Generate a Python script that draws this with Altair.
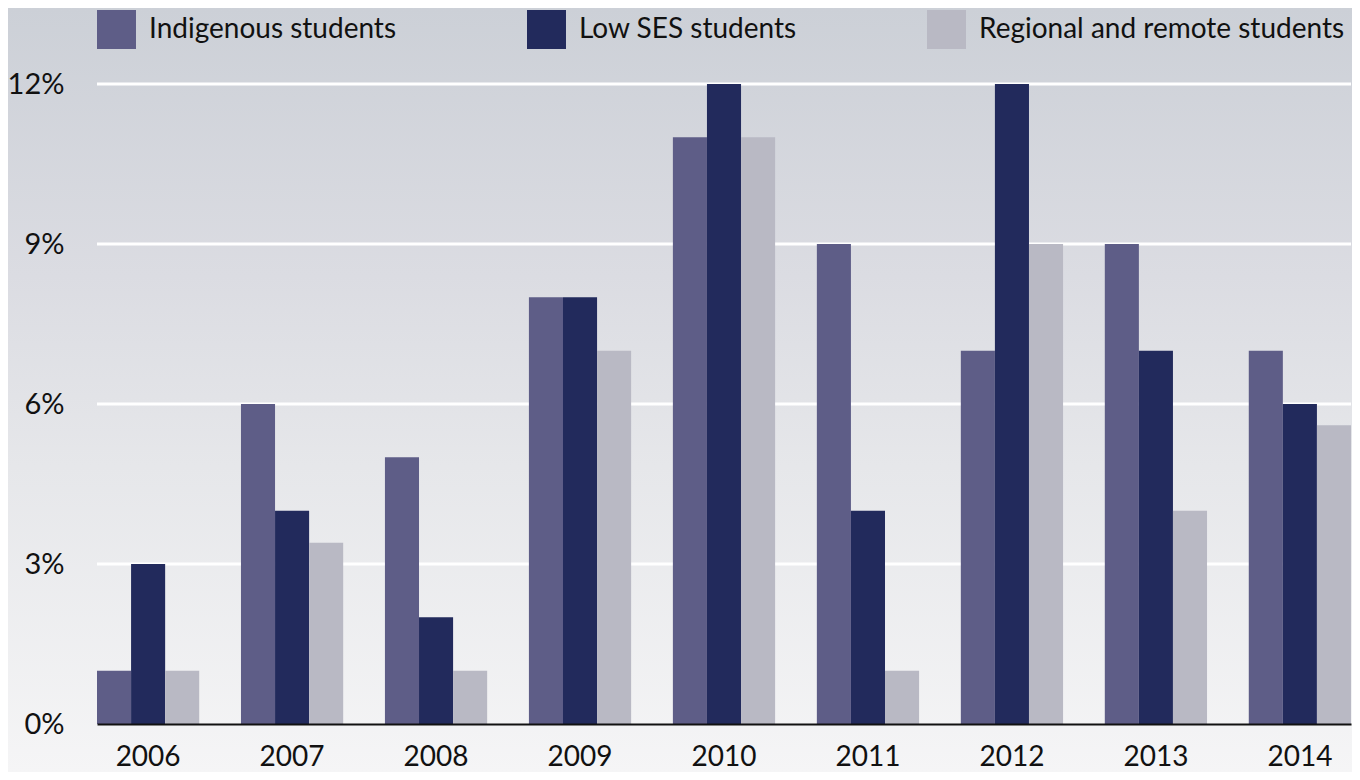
import altair as alt
import pandas as pd

years = ["2006", "2007", "2008", "2009", "2010", "2011", "2012", "2013", "2014"]
series = ["Indigenous students", "Low SES students", "Regional and remote students"]
indigenous = [1, 6, 5, 8, 11, 9, 7, 9, 7]
low_ses = [3, 4, 2, 8, 12, 4, 12, 7, 6]
regional = [1, 3.4, 1, 7, 11, 1, 9, 4, 5.6]
colors = ["#5e5d87", "#222a5c", "#b9b9c4"]
grid_ticks = [3, 6, 9, 12]
y_ticks = [0, 3, 6, 9, 12]

rows = []
for i, y in enumerate(years):
    for s, vals in zip(series, [indigenous, low_ses, regional]):
        rows.append({"year": y, "series": s, "value": vals[i]})
df = pd.DataFrame(rows)

W, H = 1254, 640
PL, PT, PR, PB = 89, 76, 1, 48
FONT = "Lato"

bg = alt.Chart(alt.Data(values=[{"a": 1}])).mark_rect(
    color=alt.LinearGradient(
        gradient="linear",
        stops=[
            alt.GradientStop(offset=0, color="#ccd0d7"),
            alt.GradientStop(offset=0.35, color="#dbdce2"),
            alt.GradientStop(offset=0.6, color="#e6e7ea"),
            alt.GradientStop(offset=1, color="#f5f5f6"),
        ],
        x1=0, x2=0, y1=0, y2=1,
    )
).encode(
    x=alt.value(-PL), x2=alt.value(W + PR),
    y=alt.value(-PT), y2=alt.value(H + PB),
)

grid = alt.Chart(pd.DataFrame({"v": grid_ticks})).mark_rule(
    color="white", strokeWidth=3
).encode(y=alt.Y("v:Q"))

bars = alt.Chart(df).mark_bar().encode(
    x=alt.X(
        "year:N",
        sort=years,
        scale=alt.Scale(paddingInner=0.29, paddingOuter=0),
        axis=alt.Axis(
            title=None, ticks=False, tickSize=0, labelAngle=0,
            labelFontSize=28, labelFont=FONT, labelColor="#111111",
            labelPadding=19, domainColor="#111111", domainWidth=2,
            grid=False, zindex=1,
        ),
    ),
    xOffset=alt.XOffset(
        "series:N", sort=series,
        scale=alt.Scale(paddingInner=0, paddingOuter=0),
    ),
    y=alt.Y(
        "value:Q",
        scale=alt.Scale(domain=[0, 12], nice=False),
        axis=alt.Axis(
            title=None, values=y_ticks, grid=False, domain=False,
            ticks=False, tickSize=0, labelPadding=33,
            labelFontSize=29, labelFont=FONT, labelColor="#111111",
            labelExpr="datum.value + '%'", zindex=1,
        ),
    ),
    color=alt.Color(
        "series:N",
        scale=alt.Scale(domain=series, range=colors),
        legend=alt.Legend(
            title=None, orient="none", legendX=0, legendY=-74,
            direction="horizontal", symbolType="square", symbolSize=1520,
            symbolStrokeWidth=0, symbolOpacity=1,
            labelFontSize=28, labelFont=FONT, labelColor="#111111",
            labelOffset=13, columnPadding=130, padding=0,
            labelLimit=500, zindex=1,
        ),
    ),
)

chart = alt.layer(bg, grid, bars).properties(
    width=W, height=H,
    padding={"left": PL, "top": PT, "right": PR, "bottom": PB},
    autosize=alt.AutoSizeParams(type="none"),
    background="#e6e7ea",
).configure_view(stroke=None)

chart.save("out.html", embed_options={"renderer": "svg", "actions": False})
